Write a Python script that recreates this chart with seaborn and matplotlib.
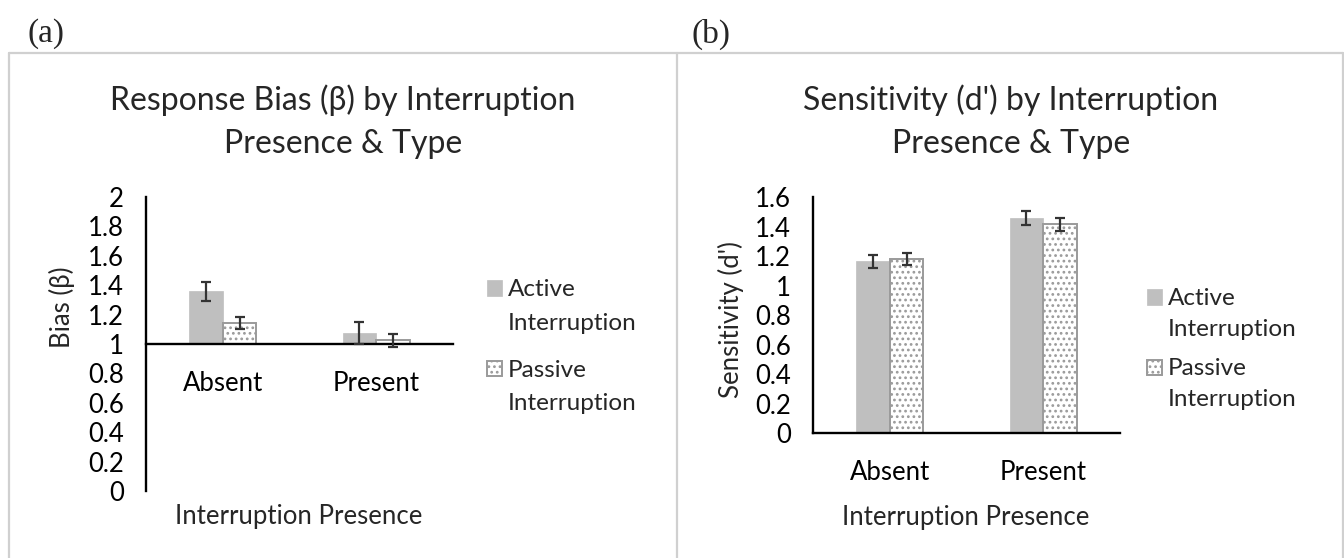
import numpy as np
import pandas as pd
import matplotlib
matplotlib.use("Agg")
import matplotlib.pyplot as plt
from matplotlib.lines import Line2D
import seaborn as sns

# ---------------- data ----------------
categories = ["Absent", "Present"]
types = ["Active", "Passive"]
legend_labels = ["Active\nInterruption", "Passive\nInterruption"]

bias_active = [1.36, 1.077]
bias_active_err = [0.065, 0.075]
bias_passive = [1.142, 1.025]
bias_passive_err = [0.04, 0.045]

sens_active = [1.165, 1.46]
sens_active_err = [0.045, 0.048]
sens_passive = [1.178, 1.415]
sens_passive_err = [0.042, 0.043]

bias_yticks = [0, 0.2, 0.4, 0.6, 0.8, 1, 1.2, 1.4, 1.6, 1.8, 2]
sens_yticks = [0, 0.2, 0.4, 0.6, 0.8, 1, 1.2, 1.4, 1.6]

title_a = "Response Bias (\u03b2) by Interruption\nPresence & Type"
title_b = "Sensitivity (d') by Interruption\nPresence & Type"
ylabel_a = "Bias (\u03b2)"
ylabel_b = "Sensitivity (d')"
xlabel = "Interruption Presence"

# ---------------- style ----------------
sns.set_style("white")
plt.rcParams["font.family"] = ["Lato", "DejaVu Sans"]
plt.rcParams["hatch.color"] = "#808080"
plt.rcParams["hatch.linewidth"] = 1.2

W, H = 1344, 558
fx = lambda x: x / W
fy = lambda y: 1 - y / H

ACTIVE = "#BFBFBF"
PASSIVE_EDGE = "#9a9a9a"
ERR = "#333333"
FS = 18.5
LFS = 17.5
TFS = 23

fig = plt.figure(figsize=(W / 100, H / 100), dpi=100)
fig.patch.set_facecolor("white")

ax1 = fig.add_axes([fx(146), fy(491), 307 / W, 294 / H])
ax2 = fig.add_axes([fx(813), fy(433), 307 / W, 236 / H])


def make_df(act, pas):
    return pd.DataFrame({
        "presence": categories * 2,
        "type": [types[0]] * len(categories) + [types[1]] * len(categories),
        "value": list(act) + list(pas),
    })


def style_bars(ax):
    bars = [c for c in ax.containers]
    for p in bars[0].patches:
        p.set_facecolor(ACTIVE)
        p.set_edgecolor(ACTIVE)
        p.set_linewidth(0.5)
    for p in bars[1].patches:
        p.set_facecolor("white")
        p.set_edgecolor(PASSIVE_EDGE)
        p.set_hatch("...")
        p.set_linewidth(1.4)
    return bars


def add_errors(ax, bars, vals_list, errs_list):
    for cont, vals, errs in zip(bars, vals_list, errs_list):
        xs = [p.get_x() + p.get_width() / 2 for p in cont.patches]
        ax.errorbar(xs, vals, yerr=errs, fmt="none", ecolor=ERR,
                    elinewidth=1.6, capsize=3.8, capthick=1.6, zorder=5)


palette = {types[0]: ACTIVE, types[1]: "white"}

# ---- panel (a): bars rise from the axis crossing at 1 ----
df_a = make_df(bias_active, bias_passive)
df_a["rel"] = df_a["value"] - 1
sns.barplot(data=df_a, x="presence", y="rel", hue="type", order=categories,
            hue_order=types, palette=palette, width=0.437, gap=0,
            errorbar=None, legend=False, bottom=1, ax=ax1)
bars_a = style_bars(ax1)
add_errors(ax1, bars_a, [bias_active, bias_passive], [bias_active_err, bias_passive_err])

# ---- panel (b) ----
df_b = make_df(sens_active, sens_passive)
sns.barplot(data=df_b, x="presence", y="value", hue="type", order=categories,
            hue_order=types, palette=palette, width=0.437, gap=0,
            errorbar=None, legend=False, ax=ax2)
bars_b = style_bars(ax2)
add_errors(ax2, bars_b, [sens_active, sens_passive], [sens_active_err, sens_passive_err])


def fmt(v):
    return f"{round(v, 2):g}"


for ax, ticks, ylab, title, t_xy, yl_xy, xl_xy, leg_xy, lsp, ls in [
    (ax1, bias_yticks, ylabel_a, title_a, (0.642, (491 - 130) / 294),
     (-0.274, 0.625), (0.498, -0.088), (487, 279), 1.06, 1.75),
    (ax2, sens_yticks, ylabel_b, title_b, (0.645, (433 - 130) / 236),
     (-0.267, 0.479), (0.498, -0.356), (1147, 288), 0.76, 1.57),
]:
    ax.set_xlim(-0.5, 1.5)
    ax.set_ylim(ticks[0], ticks[-1])
    ax.set_yticks(ticks)
    ax.set_yticklabels([fmt(t) for t in ticks])
    for s in ["top", "right"]:
        ax.spines[s].set_visible(False)
    for s in ["left", "bottom"]:
        ax.spines[s].set_color("black")
        ax.spines[s].set_linewidth(1.7)
    ax.tick_params(axis="y", length=0, pad=16, labelsize=FS, colors="black")
    ax.tick_params(axis="x", length=0, pad=19.5, labelsize=FS, colors="black")
    ax.set_ylabel(ylab, fontsize=FS, va="center")
    ax.yaxis.set_label_coords(*yl_xy)
    ax.set_xlabel(xlabel, fontsize=FS, va="center")
    ax.xaxis.set_label_coords(*xl_xy)
    ax.set_title(title, x=t_xy[0], y=t_xy[1], va="center", fontsize=TFS,
                 linespacing=1.54)
    ax.grid(False)
    ax.set_facecolor("none")

    handles = [ax.containers[0], ax.containers[1]]
    leg = ax.legend(handles=handles, labels=legend_labels, fontsize=LFS,
                    frameon=False, loc="upper left",
                    bbox_to_anchor=(fx(leg_xy[0]), fy(leg_xy[1])),
                    bbox_transform=fig.transFigure, borderpad=0,
                    borderaxespad=0, handlelength=0.6, handleheight=0.6,
                    handletextpad=0.25, labelspacing=lsp)
    for t in leg.get_texts():
        t.set_linespacing(ls)
    for h in leg.legend_handles:
        h.set_y(h.get_y() + 0.5 * 0.8 * ls * LFS + 1)

ax1.spines["bottom"].set_position(("data", 1))

# ---- panel frames and labels ----
frame_kw = dict(transform=fig.transFigure, color="#D0D0D0", lw=1.6)
fig.add_artist(Line2D([fx(9), fx(1343)], [fy(53), fy(53)], **frame_kw))
for xv in [9, 677, 1343]:
    fig.add_artist(Line2D([fx(xv), fx(xv)], [fy(53), fy(560)], **frame_kw))

fig.text(fx(27), fy(34), "(a)", family=["Liberation Serif", "DejaVu Serif"],
         fontsize=24, ha="left", va="center")
fig.text(fx(692), fy(34), "(b)", family=["Liberation Serif", "DejaVu Serif"],
         fontsize=24, ha="left", va="center")

fig.savefig("out.png", dpi=100, facecolor="white")
